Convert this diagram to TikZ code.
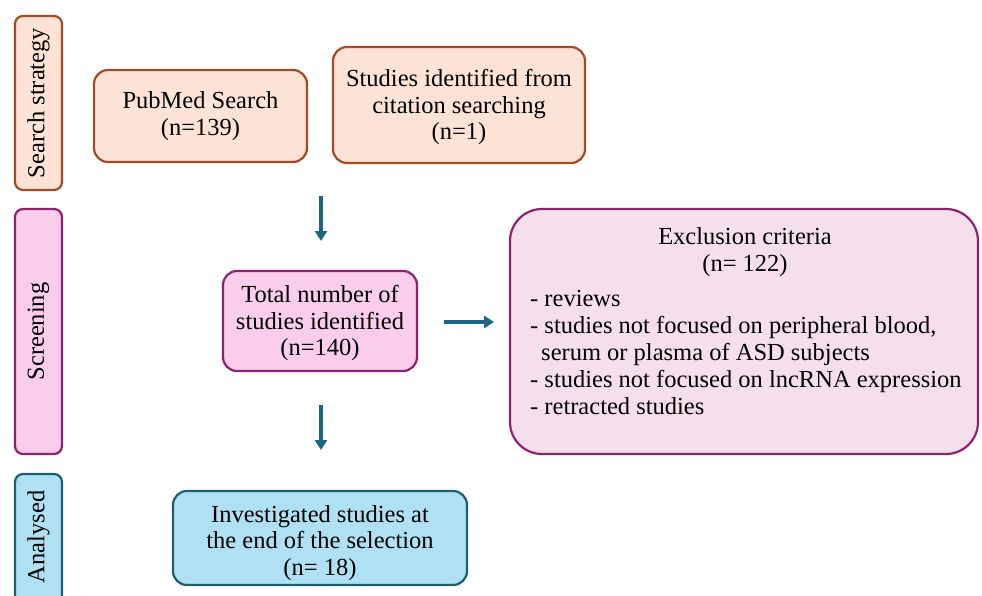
\documentclass[tikz,border=0pt]{standalone}
\usepackage{fontspec}
\setmainfont{Liberation Serif}
\usetikzlibrary{arrows.meta}
\definecolor{peachfill}{HTML}{FDE3D6}
\definecolor{peachdraw}{HTML}{A54A23}
\definecolor{pinkfill}{HTML}{F9CDEB}
\definecolor{pinkdraw}{HTML}{8E2270}
\definecolor{lightpink}{HTML}{F5DFEA}
\definecolor{bluefill}{HTML}{B0E0F3}
\definecolor{bluedraw}{HTML}{1E5E73}
\definecolor{arrowcol}{HTML}{1B6585}
\tikzset{
  box/.style={rounded corners=14pt, line width=2.2pt, align=center, inner sep=0pt,
    font=\fontsize{24.5}{26.5}\selectfont},
  peach/.style={box, fill=peachfill, draw=peachdraw},
  pink/.style={box, fill=pinkfill, draw=pinkdraw},
  blue/.style={box, fill=bluefill, draw=bluedraw},
  side/.style={rounded corners=8pt, line width=2.2pt, inner sep=0pt, minimum width=47pt},
  flowarrow/.style={line width=3.8pt, draw=arrowcol, -{Triangle[width=12pt,length=10pt]}},
  txt/.style={font=\fontsize{24.5}{26.5}\selectfont, inner sep=0pt}
}
\begin{document}
\begin{tikzpicture}[x=1pt,y=1pt]
\useasboundingbox (0,0) rectangle (982,-595);
% side labels
\node[side, fill=peachfill, draw=peachdraw, minimum height=174pt] (sside) at (38.5,-103) {};
\node[txt, rotate=90] (slabel) at (sside.center) {Search strategy};
\node[side, fill=pinkfill, draw=pinkdraw, minimum height=245pt] (scside) at (38.5,-331.5) {};
\node[txt, rotate=90] (sclabel) at (scside.center) {Screening};
\node[side, fill=bluefill, draw=bluedraw, minimum height=140pt] (aside) at (38.5,-544) {};
\node[txt, rotate=90] (alabel) at (38.5,-537) {Analysed};
% boxes
\node[peach, minimum width=213pt, minimum height=92pt] (pubmed) at (200.5,-116) {PubMed Search\\(n=139)};
\node[peach, minimum width=252pt, minimum height=116pt] (cit) at (459,-105) {};
\node[txt, align=center] (cittext) at (459,-107) {Studies identified from\\citation searching\\(n=1)};
\node[pink, minimum width=194pt, minimum height=100pt] (total) at (320,-321) {};
\node[txt, align=center] (totaltext) at (320,-323) {Total number of\\studies identified\\(n=140)};
\node[box, fill=lightpink, draw=pinkdraw, rounded corners=32pt, minimum width=468pt, minimum height=245pt] (excl) at (744,-331.5) {};
\node[txt, align=center] (exctitle) at (745,-252) {Exclusion criteria\\(n= 122)};
\node[txt, align=left, anchor=north west, font=\fontsize{24.5}{27}\selectfont] (exclist) at (530,-290) {- reviews\\- studies not focused on peripheral blood,\\\hspace{0.45em}serum or plasma of ASD subjects\\- studies not focused on lncRNA expression\\- retracted studies};
\node[blue, minimum width=294pt, minimum height=94pt] (invest) at (320,-538) {};
\node[txt, align=center] (investtext) at (320,-543) {Investigated studies at\\the end of the selection\\(n= 18)};
% arrows
\coordinate (a1s) at (321,-196);
\coordinate (a1e) at (321,-241);
\coordinate (a2s) at (321,-405);
\coordinate (a2e) at (321,-450);
\coordinate (a3s) at (444,-322);
\coordinate (a3e) at (494,-322);
\draw[flowarrow] (a1s) -- (a1e);
\draw[flowarrow] (a2s) -- (a2e);
\draw[flowarrow] (a3s) -- (a3e);
\end{tikzpicture}
\end{document}
